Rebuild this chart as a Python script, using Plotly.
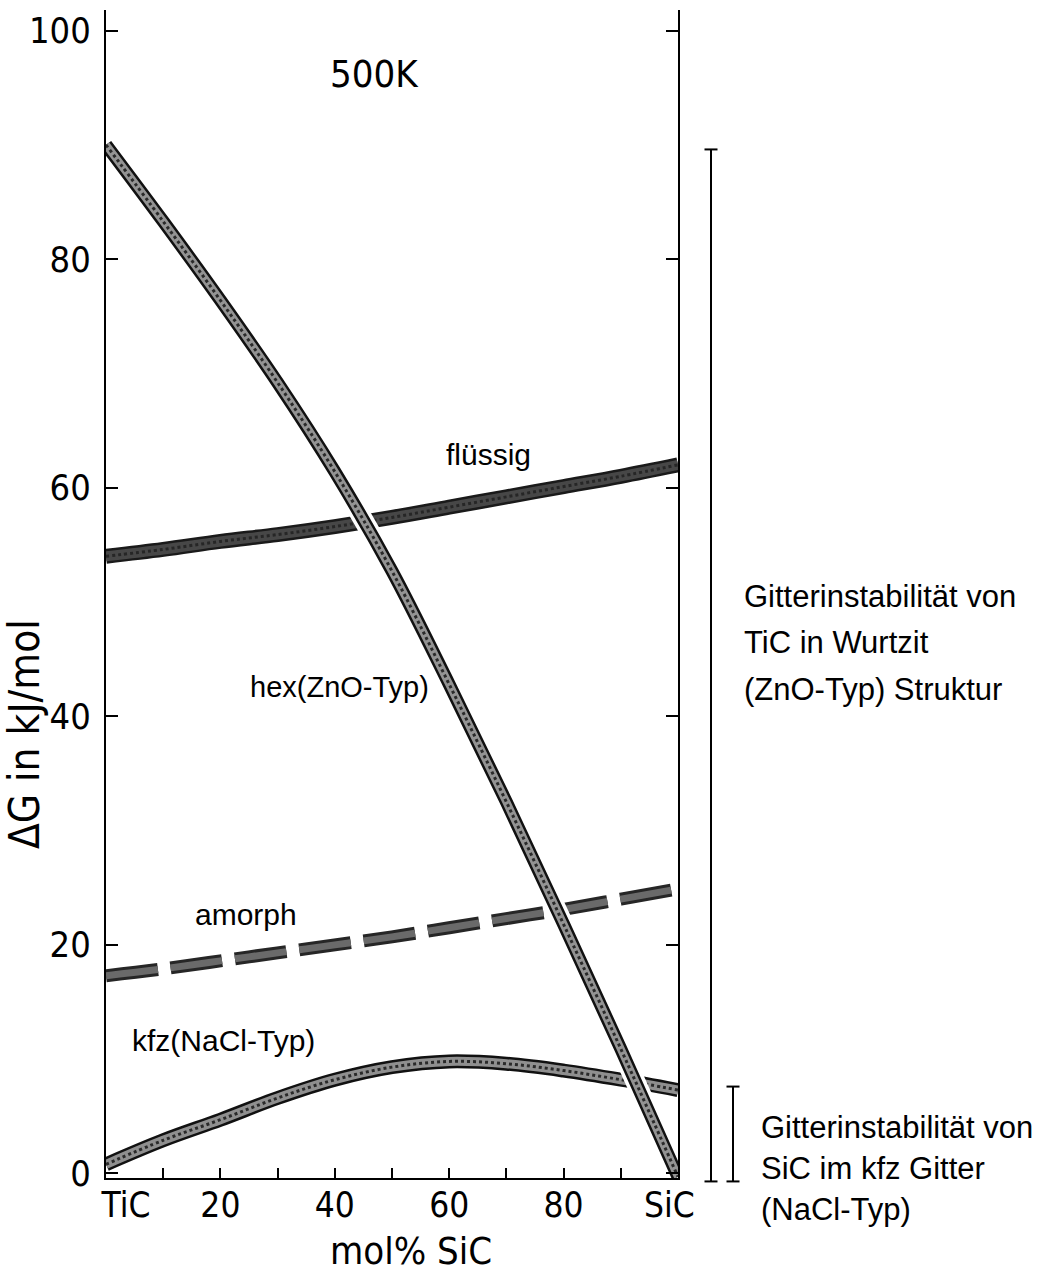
import plotly.graph_objects as go

# ---- data ----
x_mol = [0, 10, 20, 30, 40, 50, 60, 70, 80, 90, 100]
g_hex = [90.0, 83.3, 76.4, 69.2, 61.4, 52.7, 42.8, 32.5, 21.8, 10.9, -0.3]
g_fluessig = [54.0, 54.6, 55.3, 55.9, 56.6, 57.4, 58.3, 59.2, 60.1, 61.0, 62.0]
g_amorph = [17.3, 17.9, 18.6, 19.3, 20.0, 20.7, 21.5, 22.3, 23.1, 24.0, 24.9]
g_kfz = [0.8, 2.9, 4.7, 6.6, 8.2, 9.3, 9.8, 9.6, 9.0, 8.2, 7.3]

x_label_pos = [3.5, 20, 40, 60, 80, 98.5]
x_tick_labels = ["TiC", "20", "40", "60", "80", "SiC"]
y_ticks = [0, 20, 40, 60, 80, 100]

X_RANGE = [0, 100]
Y_RANGE = [-0.4, 101.8]

COND = "DejaVu Sans Condensed, Liberation Sans Narrow, Arial Narrow, sans-serif"
SANS = "Liberation Sans, Arial, Helvetica, sans-serif"

fig = go.Figure()


def add_line(x, y, color, width, dash="solid", xaxis="x"):
    fig.add_trace(go.Scatter(x=x, y=y, mode="lines", xaxis=xaxis,
                             line=dict(color=color, width=width, dash=dash, shape="spline", smoothing=1.0),
                             hoverinfo="skip", showlegend=False))


# flüssig (dark solid band)
add_line(x_mol, g_fluessig, "#1a1a1a", 15)
add_line(x_mol, g_fluessig, "#474747", 10)
add_line(x_mol, g_fluessig, "#262626", 3, "dot")

# amorph (dashed band)
add_line(x_mol, g_amorph, "#262626", 13, "52px,13px")
add_line(x_mol, g_amorph, "#6a6a6a", 7, "52px,13px")

# kfz (speckled band)
add_line(x_mol, g_kfz, "#111111", 14)
add_line(x_mol, g_kfz, "#8f8f8f", 9)
add_line(x_mol, g_kfz, "#2a2a2a", 3, "dot")

# hex (speckled band, on top with white edge)
add_line(x_mol, g_hex, "#ffffff", 20)
add_line(x_mol, g_hex, "#111111", 13)
add_line(x_mol, g_hex, "#939393", 8)
add_line(x_mol, g_hex, "#2a2a2a", 3, "dot")

# invisible trace for the label axis
fig.add_trace(go.Scatter(x=X_RANGE, y=Y_RANGE, mode="markers", xaxis="x2",
                         marker=dict(opacity=0), hoverinfo="skip", showlegend=False))


# ---- in-plot labels ----
def ann(text, x, y, size=30, family=SANS, xref="x", yref="y", xanchor="center", textangle=0):
    fig.add_annotation(text=text, x=x, y=y, xref=xref, yref=yref, showarrow=False,
                       xanchor=xanchor, yanchor="middle", textangle=textangle,
                       font=dict(family=family, size=size, color="black"))


ann("500K", 46.9, 96.2, size=38, family=COND)
ann("flüssig", 66.8, 62.9)
ann("hex(ZnO-Typ)", 40.9, 42.6, size=29)
ann("amorph", 24.5, 22.7)
ann("kfz(NaCl-Typ)", 20.5, 11.6)

# axis titles
ann("mol% SiC", (411 - 106) / 572, (1178 - 1251) / 1168, size=38, family=COND,
    xref="paper", yref="paper")
ann("ΔG in kJ/mol", (25 - 106) / 572, (1178 - 734) / 1168, size=42, family=COND,
    xref="paper", yref="paper", textangle=-90)


# ---- right-hand brackets ----
def ypaper(v):
    return (v - Y_RANGE[0]) / (Y_RANGE[1] - Y_RANGE[0])


def xpaper(px):
    return (px - 106) / 572


def bracket(px, v_top, v_bot, cap=13):
    x0 = xpaper(px)
    dx = cap / 2 / 572
    yt, yb = ypaper(v_top), ypaper(v_bot)
    for (xa, ya, xb, yb2) in [(x0, yt, x0, yb), (x0 - dx, yt, x0 + dx, yt), (x0 - dx, yb, x0 + dx, yb)]:
        fig.add_shape(type="line", xref="paper", yref="paper", x0=xa, y0=ya, x1=xb, y1=yb2,
                      line=dict(color="black", width=2))


bracket(711, g_hex[0] - 0.4, -0.7)
bracket(733, g_kfz[-1] + 0.3, -0.7)

right_lines_1 = ["Gitterinstabilität von", "TiC in Wurtzit", "(ZnO-Typ) Struktur"]
right_lines_1_y = [597, 643, 689]
for t, py in zip(right_lines_1, right_lines_1_y):
    ann(t, xpaper(742), (1178 - py) / 1168, size=31, xref="paper", yref="paper", xanchor="left")

right_lines_2 = ["Gitterinstabilität von", "SiC im kfz Gitter", "(NaCl-Typ)"]
right_lines_2_y = [1127, 1168, 1209]
for t, py in zip(right_lines_2, right_lines_2_y):
    ann(t, xpaper(759), (1178 - py) / 1168, size=31, xref="paper", yref="paper", xanchor="left")

fig.update_layout(
    width=1043, height=1288,
    margin=dict(l=106, r=365, t=10, b=110),
    paper_bgcolor="white", plot_bgcolor="white",
    showlegend=False,
    xaxis=dict(range=X_RANGE, showgrid=False, zeroline=False, showline=True, linecolor="black",
               linewidth=2, mirror=False, tickvals=[10, 20, 30, 40, 50, 60, 70, 80, 90],
               ticks="inside", ticklen=10, tickwidth=2, tickcolor="black", showticklabels=False),
    xaxis2=dict(range=X_RANGE, overlaying="x", side="bottom", showgrid=False, zeroline=False,
                showline=False, tickvals=x_label_pos, ticktext=x_tick_labels, ticks="",
                ticklabelstandoff=3,
                tickfont=dict(family=COND, size=35, color="black")),
    yaxis=dict(range=Y_RANGE, showgrid=False, zeroline=False, showline=True, linecolor="black",
               linewidth=2, mirror="ticks", tickvals=y_ticks, ticks="inside", ticklen=12,
               tickwidth=2, tickcolor="black", ticklabelstandoff=6,
               tickfont=dict(family=COND, size=36, color="black")),
)

fig.write_html("out.html")
